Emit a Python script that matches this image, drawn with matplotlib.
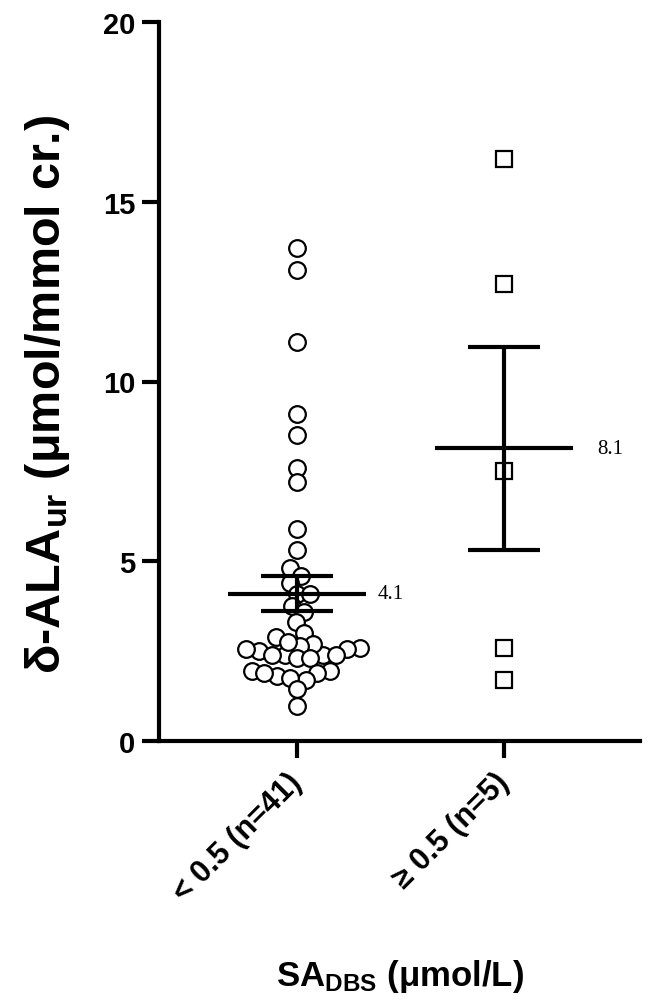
import numpy as np
import matplotlib
matplotlib.use("Agg")
import matplotlib.pyplot as plt

plt.rcParams['font.family'] = ['Liberation Sans', 'DejaVu Sans']
plt.rcParams['font.weight'] = 'bold'
plt.rcParams['mathtext.fontset'] = 'custom'
plt.rcParams['mathtext.rm'] = 'Liberation Sans:bold'
plt.rcParams['mathtext.bf'] = 'Liberation Sans:bold'
plt.rcParams['mathtext.it'] = 'Liberation Sans:bold'

# ---- data ----
categories = ['< 0.5 (n=41)', '≥ 0.5 (n=5)']
group_low = [13.7, 13.1, 11.1, 9.1, 8.5, 7.6, 7.2, 5.9, 5.3,
             4.8, 4.6, 4.4, 4.1, 4.1, 3.75, 3.6, 3.3, 2.9, 3.0,
             2.6, 2.4, 2.4, 2.5, 2.7, 2.65, 2.75, 2.55, 2.55, 2.4, 2.3, 2.4, 2.3,
             1.95, 1.8, 1.9, 1.95, 1.9, 1.7, 1.75, 1.45, 0.97]
group_high = [16.2, 12.7, 7.5, 2.6, 1.7]
y_ticks = [0, 5, 10, 15, 20]

fig = plt.figure(figsize=(6.5, 10.03), dpi=100)
ax = fig.add_axes([159/650, 1-742/1003, (640-159)/650, (742-23)/1003])
ax.set_xlim(-0.667, 1.657)
ax.set_ylim(0, 20)

for s in ['top', 'right']:
    ax.spines[s].set_visible(False)
for s in ['left', 'bottom']:
    ax.spines[s].set_linewidth(3)
    ax.spines[s].set_capstyle('projecting')


def swarm_offsets(vals, center, d):
    pts = ax.transData.transform(np.column_stack([np.full(len(vals), center), vals]))
    order = np.argsort(vals, kind='stable')
    placed = []
    xs = np.empty(len(vals))
    for i in order:
        x0, y = pts[i]
        cands = [0.0]
        for (px, py) in placed:
            dy = y - py
            if abs(dy) < d:
                dx = np.sqrt(d * d - dy * dy)
                cands += [px - x0 + dx, px - x0 - dx]
        cands = sorted(cands, key=abs)
        chosen = cands[0]
        for c in cands:
            if all((x0 + c - px) ** 2 + (y - py) ** 2 >= d * d - 1e-6 for px, py in placed):
                chosen = c
                break
        placed.append((x0 + chosen, y))
        xs[i] = x0 + chosen
    inv = ax.transData.inverted()
    return inv.transform(np.column_stack([xs, pts[:, 1]]))[:, 0]


groups = [np.array(group_low), np.array(group_high)]
markers = ['o', 's']
msizes = [12, 11.5]
text_dx = [0.39, 0.45]

for gi, vals in enumerate(groups):
    xs = swarm_offsets(vals, gi, 13.0)
    ax.plot(xs, vals, linestyle='none', marker=markers[gi], markersize=msizes[gi],
            markerfacecolor='white', markeredgecolor='black', markeredgewidth=1.6,
            zorder=3)
    m = vals.mean()
    sem = vals.std(ddof=1) / np.sqrt(len(vals))
    ax.plot([gi - 0.335, gi + 0.335], [m, m], color='black', lw=3, zorder=4,
            solid_capstyle='butt')
    ax.plot([gi - 0.175, gi + 0.175], [m + sem, m + sem], color='black', lw=3, zorder=4,
            solid_capstyle='butt')
    ax.plot([gi - 0.175, gi + 0.175], [m - sem, m - sem], color='black', lw=3, zorder=4,
            solid_capstyle='butt')
    ax.plot([gi, gi], [m - sem, m + sem], color='black', lw=3, zorder=4,
            solid_capstyle='butt')
    ax.text(gi + text_dx[gi], m, f"{m:.1f}", family='Liberation Serif', weight='normal',
            fontsize=15, ha='left', va='center')

ax.set_yticks(y_ticks)
ax.set_yticklabels([str(t) for t in y_ticks], fontsize=21, fontweight='bold')
ax.set_xticks([0, 1])
ax.set_xticklabels(categories, fontsize=22, fontweight='bold', rotation=45,
                   ha='right', va='center', rotation_mode='anchor')
ax.tick_params(axis='both', direction='out', length=12, width=3, pad=5)
ax.tick_params(axis='x', pad=14)

ax.set_ylabel('δ-ALA$_{\\mathrm{ur}}$ (μmol/mmol cr.)', fontsize=35, fontweight='bold')
ax.yaxis.set_label_coords(-0.18, 0.483)
ax.set_xlabel('SA$_{\\mathrm{DBS}}$ (μmol/L)', fontsize=25, fontweight='bold')
ax.xaxis.set_label_coords(0.5, -0.30)

fig.savefig('out.png', dpi=100)
